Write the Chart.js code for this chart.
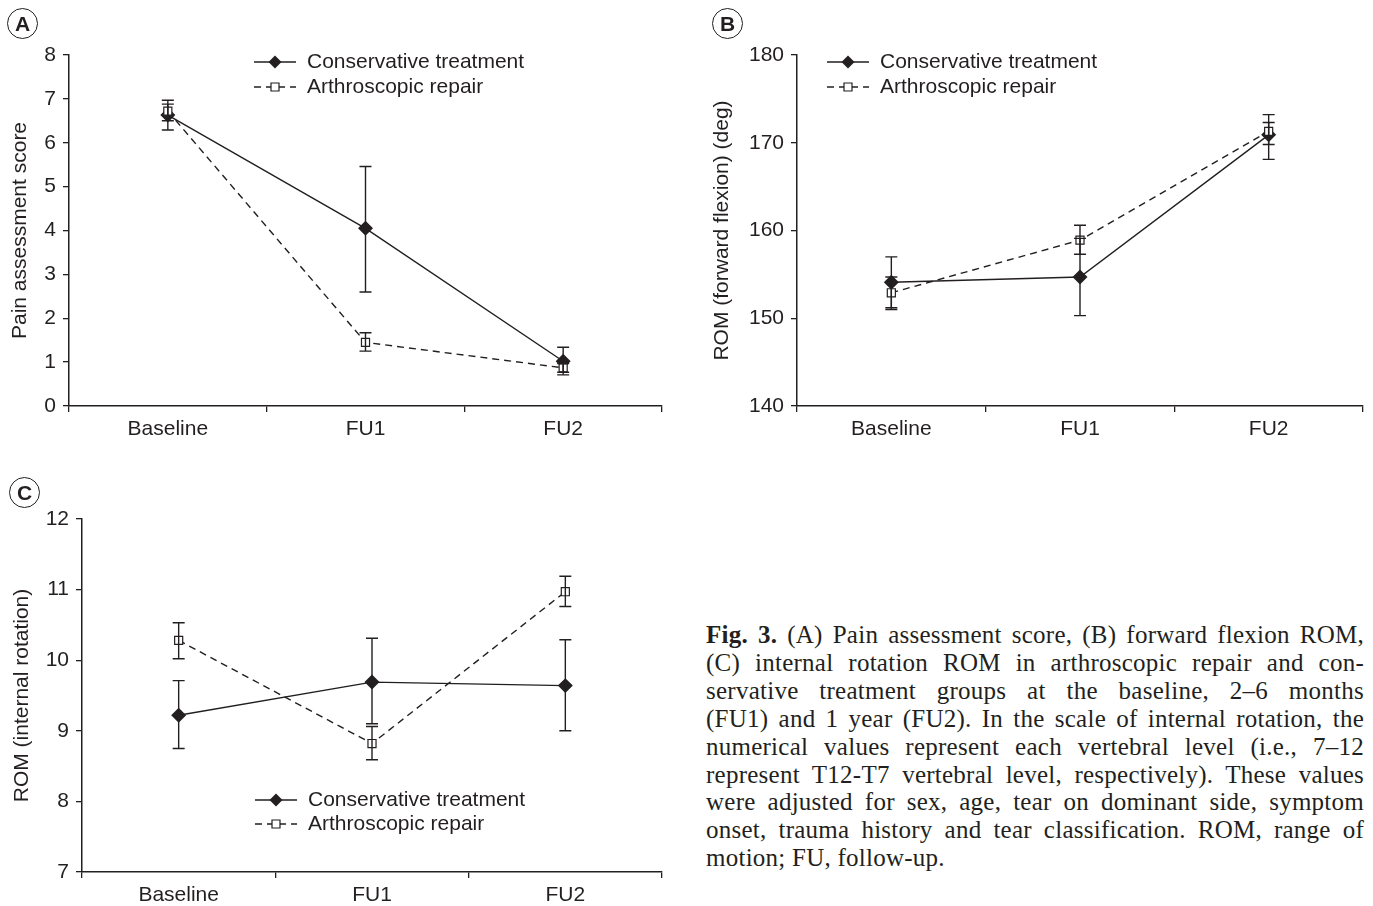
<!DOCTYPE html>
<html>
<head>
<meta charset="utf-8">
<script src="https://cdn.jsdelivr.net/npm/chart.js@4.4.1/dist/chart.umd.min.js"></script>
<style>
body{margin:0;background:#fff;width:1373px;height:906px;position:relative;overflow:hidden;font-family:'Liberation Sans',Arial,sans-serif;color:#231f20}
canvas{position:absolute}
.tag{position:absolute;width:29px;height:29px;border:1.3px solid #231f20;border-radius:50%;font-weight:bold;font-size:21px;line-height:29px;text-align:center}
#cap{position:absolute;left:706px;top:621px;width:658px;font-family:'Liberation Serif','Times New Roman',serif;font-size:25px;letter-spacing:0.25px;line-height:27.9px;color:#231f20}
#cap div{white-space:nowrap;text-align:justify;text-align-last:justify}
#cap div.last{text-align-last:left}
</style>
</head>
<body>
<canvas id="chartA" width="690" height="460" style="left:0;top:0"></canvas>
<canvas id="chartB" width="673" height="460" style="left:700px;top:0"></canvas>
<canvas id="chartC" width="690" height="436" style="left:0;top:470px"></canvas>
<div class="tag" style="left:7px;top:8px">A</div>
<div class="tag" style="left:712px;top:8px">B</div>
<div class="tag" style="left:9px;top:477px">C</div>
<div id="cap">
<div><b>Fig. 3.</b> (A) Pain assessment score, (B) forward flexion ROM,</div>
<div>(C) internal rotation ROM in arthroscopic repair and con-</div>
<div>servative treatment groups at the baseline, 2–6 months</div>
<div>(FU1) and 1 year (FU2). In the scale of internal rotation, the</div>
<div>numerical values represent each vertebral level (i.e., 7–12</div>
<div>represent T12-T7 vertebral level, respectively). These values</div>
<div>were adjusted for sex, age, tear on dominant side, symptom</div>
<div>onset, trauma history and tear classification. ROM, range of</div>
<div class="last">motion; FU, follow-up.</div>
</div>
<script>
const categories = ['Baseline', 'FU1', 'FU2']
const seriesNames = ['Conservative treatment', 'Arthroscopic repair']

// (A) pain assessment score, mean with lower / upper error
const painCons = [6.63, 4.05, 1.02]
const painConsLo = [6.29, 2.6, 0.71]
const painConsHi = [6.97, 5.46, 1.34]
const painArth = [6.72, 1.45, 0.87]
const painArthLo = [6.5, 1.25, 0.77]
const painArthHi = [6.88, 1.67, 0.97]
const painTicks = [0, 1, 2, 3, 4, 5, 6, 7, 8]

// (B) forward flexion ROM
const flexCons = [154.1, 154.7, 170.9]
const flexConsLo = [151.2, 150.3, 168.1]
const flexConsHi = [157.0, 159.1, 173.2]
const flexArth = [152.9, 158.9, 171.3]
const flexArthLo = [151.0, 157.3, 169.8]
const flexArthHi = [154.7, 160.6, 172.3]
const flexTicks = [140, 150, 160, 170, 180]

// (C) internal rotation ROM
const rotCons = [9.22, 9.69, 9.64]
const rotConsLo = [8.75, 9.1, 9.0]
const rotConsHi = [9.71, 10.31, 10.29]
const rotArth = [10.28, 8.82, 10.97]
const rotArthLo = [10.02, 8.59, 10.76]
const rotArthHi = [10.53, 9.06, 11.19]
const rotTicks = [7, 8, 9, 10, 11, 12]

const ink = '#231f20'
const font = "'Liberation Sans', Arial, sans-serif"

function marker(ctx, style, x, y) {
    ctx.beginPath()
    if (style === 'rectRot') {
        ctx.moveTo(x, y - 6.5)
        ctx.lineTo(x + 6.5, y)
        ctx.lineTo(x, y + 6.5)
        ctx.lineTo(x - 6.5, y)
        ctx.closePath()
        ctx.fillStyle = ink
        ctx.fill()
    } else {
        ctx.rect(x - 4, y - 4, 8, 8)
        ctx.fillStyle = '#fff'
        ctx.fill()
        ctx.lineWidth = 1.2
        ctx.stroke()
    }
}

const errorBars = {
    id: 'errorBars',
    afterDatasetsDraw(chart) {
        const { ctx } = chart
        const xs = chart.scales.x
        const ys = chart.scales.y
        ctx.save()
        ctx.strokeStyle = ink
        ctx.lineWidth = 1.4
        chart.data.datasets.forEach((ds) => {
            ds.lo.forEach((lo, i) => {
                const px = xs.getPixelForValue(i)
                const y1 = ys.getPixelForValue(lo)
                const y2 = ys.getPixelForValue(ds.hi[i])
                ctx.beginPath()
                ctx.moveTo(px, y1)
                ctx.lineTo(px, y2)
                ctx.moveTo(px - 6, y1)
                ctx.lineTo(px + 6, y1)
                ctx.moveTo(px - 6, y2)
                ctx.lineTo(px + 6, y2)
                ctx.stroke()
            })
        })
        ctx.restore()
    },
}

const lineLegend = {
    id: 'lineLegend',
    afterDraw(chart, args, opts) {
        const { ctx } = chart
        ctx.save()
        chart.data.datasets.forEach((ds, i) => {
            const y = opts.y + i * opts.gap
            ctx.strokeStyle = ink
            ctx.lineWidth = 1.4
            ctx.setLineDash(ds.borderDash)
            ctx.beginPath()
            ctx.moveTo(opts.x, y)
            ctx.lineTo(opts.x + 42, y)
            ctx.stroke()
            ctx.setLineDash([])
            marker(ctx, ds.pointStyle, opts.x + 21, y)
            ctx.fillStyle = ink
            ctx.font = '21px ' + font
            ctx.textBaseline = 'middle'
            ctx.fillText(ds.label, opts.x + 53, y)
        })
        ctx.restore()
    },
}

function makeChart(id, p) {
    return new Chart(document.getElementById(id), {
        type: 'line',
        data: {
            labels: categories,
            datasets: [
                {
                    label: seriesNames[0],
                    data: p.cons,
                    lo: p.consLo,
                    hi: p.consHi,
                    borderColor: ink,
                    borderWidth: 1.4,
                    borderDash: [],
                    pointStyle: 'rectRot',
                    pointRadius: 6.5,
                    pointBackgroundColor: ink,
                    pointBorderColor: ink,
                    order: 1,
                },
                {
                    label: seriesNames[1],
                    data: p.arth,
                    lo: p.arthLo,
                    hi: p.arthHi,
                    borderColor: ink,
                    borderWidth: 1.4,
                    borderDash: [7, 5],
                    pointStyle: 'rect',
                    pointRadius: 5.7,
                    pointBorderWidth: 1.2,
                    pointBackgroundColor: '#fff',
                    pointBorderColor: ink,
                    order: 0,
                },
            ],
        },
        options: {
            responsive: false,
            animation: false,
            events: [],
            layout: { padding: p.pad },
            plugins: {
                legend: { display: false },
                tooltip: { enabled: false },
                lineLegend: p.legend,
            },
            scales: {
                x: {
                    offset: true,
                    border: { color: ink, width: 1.5 },
                    grid: { offset: true, drawOnChartArea: false, tickLength: 6, color: ink, lineWidth: 1.3 },
                    ticks: { color: ink, font: { family: font, size: 21 }, padding: 5, maxRotation: 0 },
                    afterFit: (s) => { s.height = p.xh },
                },
                y: {
                    min: p.ticks[0],
                    max: p.ticks[p.ticks.length - 1],
                    border: { color: ink, width: 1.5 },
                    grid: { drawOnChartArea: false, tickLength: 6, color: ink, lineWidth: 1.3 },
                    ticks: { color: ink, font: { family: font, size: 21 }, padding: 7 },
                    afterBuildTicks: (s) => { s.ticks = p.ticks.map((v) => ({ value: v })) },
                    afterFit: (s) => { s.width = p.yw },
                    title: {
                        display: true,
                        text: p.title,
                        color: ink,
                        font: { family: font, size: 21 },
                        padding: { top: p.tp, bottom: 0 },
                    },
                },
            },
        },
        plugins: [errorBars, lineLegend],
    })
}

makeChart('chartA', {
    cons: painCons, consLo: painConsLo, consHi: painConsHi,
    arth: painArth, arthLo: painArthLo, arthHi: painArthHi,
    ticks: painTicks, title: 'Pain assessment score',
    pad: { left: 0, top: 55, right: 28, bottom: 0 }, yw: 69, xh: 54, tp: 7.4,
    legend: { x: 254, y: 62, gap: 25 },
})

makeChart('chartB', {
    cons: flexCons, consLo: flexConsLo, consHi: flexConsHi,
    arth: flexArth, arthLo: flexArthLo, arthHi: flexArthHi,
    ticks: flexTicks, title: 'ROM (forward flexion) (deg)',
    pad: { left: 0, top: 55, right: 10, bottom: 0 }, yw: 97, xh: 54, tp: 9.4,
    legend: { x: 127, y: 62, gap: 25 },
})

makeChart('chartC', {
    cons: rotCons, consLo: rotConsLo, consHi: rotConsHi,
    arth: rotArth, arthLo: rotArthLo, arthHi: rotArthHi,
    ticks: rotTicks, title: 'ROM (internal rotation)',
    pad: { left: 0, top: 49, right: 28, bottom: 0 }, yw: 82, xh: 34, tp: 9.4,
    legend: { x: 255, y: 330, gap: 24 },
})
</script>
</body>
</html>
